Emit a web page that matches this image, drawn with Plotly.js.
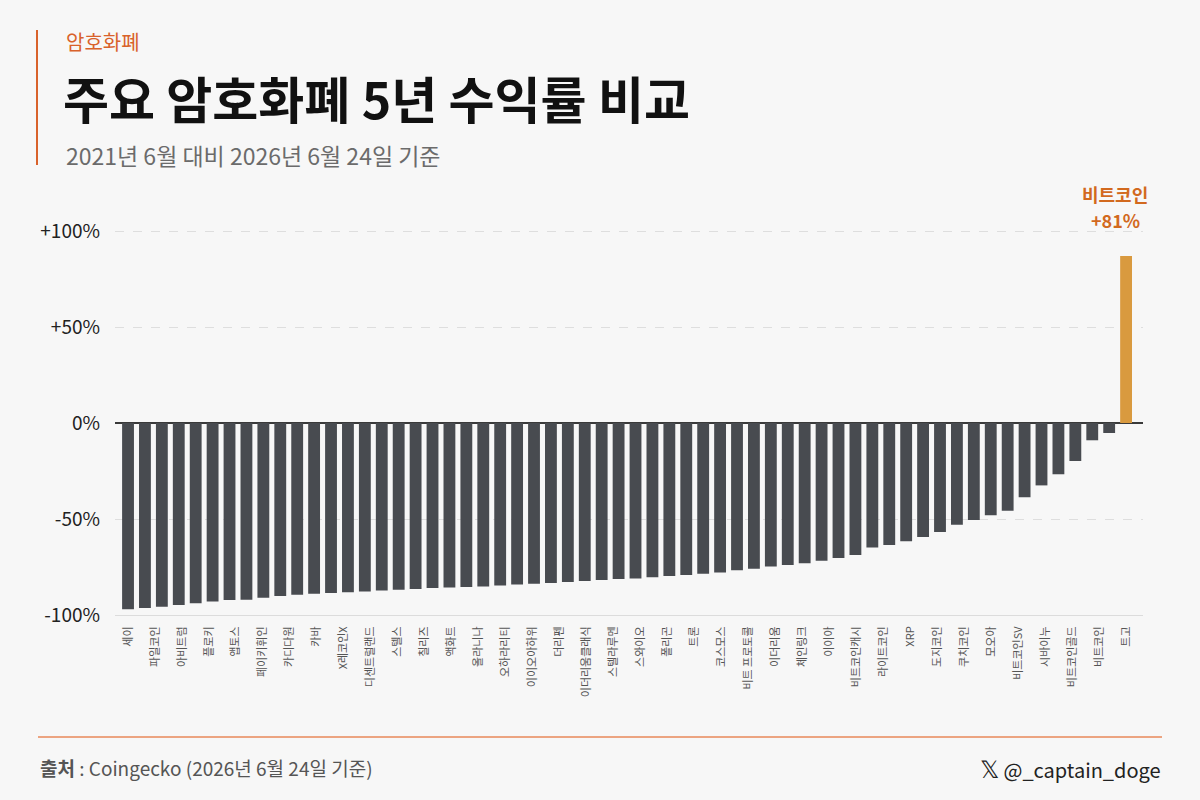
<!DOCTYPE html>
<html>
<head>
<meta charset="utf-8">
<script src="https://cdn.plot.ly/plotly-3.0.1.min.js"></script>
<style>
html,body{margin:0;padding:0;background:#f7f7f7;}
#chart{width:1200px;height:800px;}
</style>
</head>
<body>
<div id="chart"></div>
<script>
// ---- data ----
const tickLabels = ["세이","파일코인","아비트럼","플로키","앱토스","페이키휘인","카디다원","카바","X레코인X","디센트럴랜드",
  "스텔스","칠리즈","액화트","올라니나","오하라리티","이이오아하위","더리펜","이더리움클래식","스텔라루멘","스와이오",
  "폴리곤","트론","코스모스","비트 프로토콜","이더리움","체인링크","이이아","비트코인캐시","라이트코인","XRP",
  "도지코인","쿠치코인","모오아","비트코인SV","시바이누","비트코인골드","비트코인","트고"];
const returns = [-97,-96.4,-95.7,-94.8,-93.9,-93,-92.2,-92,-91,-90.1,
  -89.4,-88.9,-88.5,-88.2,-87.8,-87.3,-86.8,-86.5,-85.9,-85.7,
  -85.4,-85.1,-84.7,-84.1,-83.7,-83.3,-82.8,-82.3,-81.8,-81.3,
  -81,-80.4,-79.7,-79.2,-78.5,-77.8,-76.7,-75.9,-74.8,-74,
  -73.1,-71.7,-70.3,-68.8,-64.9,-63.5,-61.6,-59.4,-56.8,-53,
  -50.5,-48.1,-45.7,-38.7,-32.5,-26.7,-19.8,-9,-5.2,87];
const highlightName = "비트코인";
const highlightText = "+81%";
const yTickVals = [-100,-50,0,50,100];
const yTickText = ["-100%","-50%","0%","+50%","+100%"];

// ---- layout helpers ----
const W = 1200, H = 800;
const L = 115, R = 1143, T = 195, B = 615;
const px = x => (x - L) / (R - L);
const py = y => (B - y) / (B - T);

const xs = returns.map((_, i) => i);
const n = returns.length;
const colors = returns.map(v => v > 0 ? '#d99a3f' : '#484b50');
const tickVals = tickLabels.map((_, i) => i * (n - 1) / (tickLabels.length - 1));
const hi = returns.findIndex(v => v > 0);

const font = '"Noto Sans CJK KR", "Noto Sans", sans-serif';

const trace = {
  type: 'bar', x: xs, y: returns,
  marker: {color: colors, line: {width: 0}},
  hoverinfo: 'y', showlegend: false
};

const layout = {
  width: W, height: H,
  paper_bgcolor: '#f7f7f7', plot_bgcolor: '#f7f7f7',
  margin: {l: L, r: W - R, t: T, b: H - B, pad: 0},
  bargap: 0.3,
  font: {family: font, color: '#222'},
  title: {
    text: '<b>주요 암호화폐 5년 수익률 비교</b>',
    font: {family: font, size: 50, color: '#111'},
    xref: 'container', yref: 'container',
    x: 63 / W, xanchor: 'left', y: 1 - 101 / H, yanchor: 'middle'
  },
  xaxis: {
    range: [-0.77, n], type: 'linear',
    tickmode: 'array', tickvals: tickVals, ticktext: tickLabels,
    tickangle: -90, tickfont: {size: 11, color: '#555', family: font},
    showgrid: false, zeroline: false,
    showline: true, linecolor: '#dcdcdc', linewidth: 1,
    ticks: '', ticklabelstandoff: 6, fixedrange: true
  },
  yaxis: {
    range: [-100, 100 + (231 - T) / 1.92],
    tickmode: 'array', tickvals: yTickVals, ticktext: yTickText,
    tickfont: {size: 19, color: '#222', family: font},
    showgrid: true, gridcolor: '#dedede', griddash: 'dash', gridwidth: 1,
    zeroline: true, zerolinecolor: '#3a3a3a', zerolinewidth: 1.5,
    ticks: '', ticklabelstandoff: 14, fixedrange: true
  },
  shapes: [
    {type: 'line', xref: 'paper', yref: 'paper', x0: px(37), x1: px(37), y0: py(30), y1: py(165),
     line: {color: '#d9622b', width: 2}},
    {type: 'line', xref: 'paper', yref: 'paper', x0: px(38), x1: px(1162), y0: py(737), y1: py(737),
     line: {color: '#e8885a', width: 1.5}}
  ],
  annotations: [
    {xref: 'paper', yref: 'paper', x: px(64), y: py(42), xanchor: 'left', yanchor: 'middle',
     text: '암호화폐', showarrow: false, font: {family: font, size: 20, color: '#d9622b'}},
    {xref: 'paper', yref: 'paper', x: px(64), y: py(155), xanchor: 'left', yanchor: 'middle',
     text: '2021년 6월 대비 2026년 6월 24일 기준', showarrow: false,
     font: {family: font, size: 23, color: '#6b6b6b'}},
    {xref: 'x', yref: 'y', x: hi, y: returns[hi], xanchor: 'center', yanchor: 'bottom',
     yshift: 48, xshift: -11, borderpad: 0,
     text: '<b>' + highlightName + '</b>', showarrow: false,
     font: {family: font, size: 18, color: '#d2691e'}},
    {xref: 'x', yref: 'y', x: hi, y: returns[hi], xanchor: 'center', yanchor: 'bottom',
     yshift: 22, xshift: -11, borderpad: 0,
     text: '<b>' + highlightText + '</b>', showarrow: false,
     font: {family: font, size: 18, color: '#d2691e'}},
    {xref: 'paper', yref: 'paper', x: px(38), y: py(767), xanchor: 'left', yanchor: 'middle',
     text: '<b>출처</b> : Coingecko (2026년 6월 24일 기준)', showarrow: false,
     font: {family: font, size: 19, color: '#555'}},
    {xref: 'paper', yref: 'paper', x: px(1163), y: py(767), xanchor: 'right', yanchor: 'middle',
     text: '<span style="font-size:24px">𝕏</span> @_captain_doge', showarrow: false,
     font: {family: font, size: 20, color: '#222'}}
  ]
};

Plotly.newPlot('chart', [trace], layout, {displayModeBar: false, staticPlot: true});
</script>
</body>
</html>
